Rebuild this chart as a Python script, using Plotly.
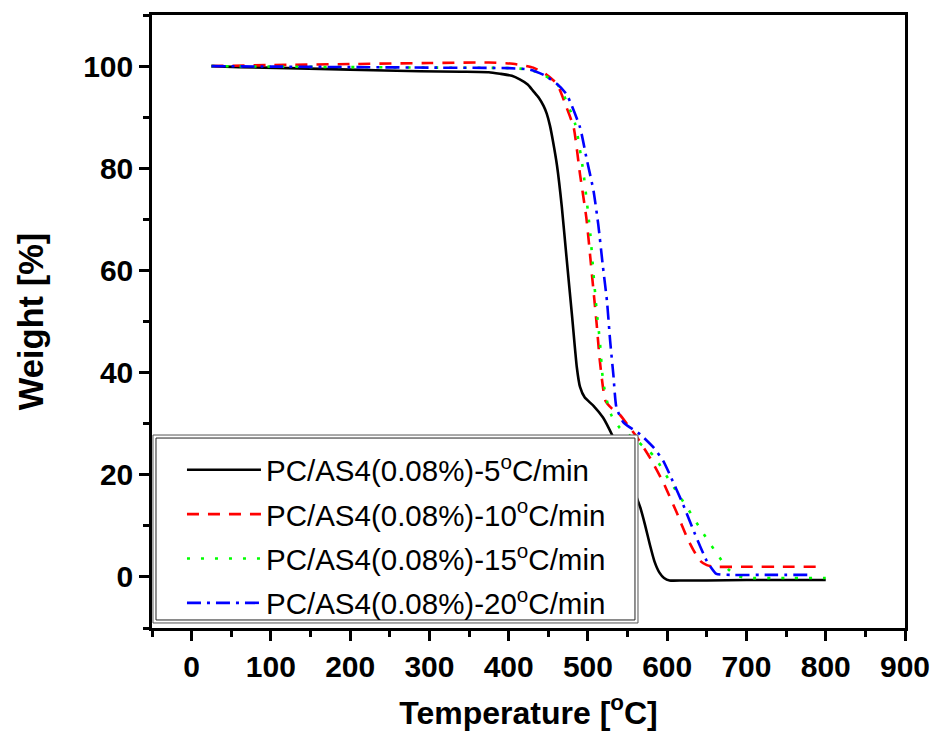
import plotly.graph_objects as go

# ---- data ----
temp_5 = [25, 60, 122, 200, 288, 340, 375, 389, 404, 414, 424, 431, 438, 444, 448, 452, 456, 461, 467, 473, 480, 486,
          490, 496, 507, 519, 532, 540, 550, 560, 566, 572, 578, 584, 590, 596, 603, 620, 650, 700, 750, 800]
wt_5 = [100.0, 99.8, 99.6, 99.3, 99.0, 98.9, 98.8, 98.5, 98.1, 97.4, 96.4, 95.1, 93.8, 92.2, 90.7, 88.4, 85.2, 80.5, 72.5, 62.5, 51.0, 41.0,
        37.2, 35.1, 33.5, 31.2, 27.3, 24.5, 20.5, 16.2, 13.6, 10.2, 6.4, 3.0, 0.9, -0.2, -0.7, -0.7, -0.7, -0.6, -0.6, -0.6]

temp_10 = [25, 100, 200, 300, 375, 402, 420, 431, 446, 461, 473, 482, 490, 498, 503, 507, 511, 515, 522,
           530, 540, 550, 562, 578, 595, 612, 625, 634, 642, 650, 658, 700, 750, 790]
wt_10 = [100.0, 100.2, 100.4, 100.6, 100.7, 100.5, 100.1, 99.7, 98.5, 96.5, 91.9, 88.0, 78.8, 70.3, 62.5, 56.0, 49.5, 42.3, 34.5,
         33.0, 31.8, 29.8, 27.3, 23.4, 18.5, 12.6, 7.7, 5.0, 3.1, 2.3, 2.0, 2.0, 2.0, 2.0]

temp_15 = [25, 100, 200, 300, 400, 427, 445, 461, 469, 484, 494, 503, 507, 511, 515, 519, 526, 530, 540,
           562, 583, 603, 625, 646, 666, 677, 688, 700, 750, 800]
wt_15 = [100.0, 99.9, 99.8, 99.7, 99.6, 99.3, 98.2, 96.5, 94.5, 88.6, 79.5, 67.1, 59.3, 52.1, 46.2, 38.4, 33.1, 31.5, 29.2,
         26.6, 23.7, 18.8, 13.6, 8.4, 3.8, 1.5, 0.2, -0.2, -0.2, -0.2]

temp_20 = [25, 100, 200, 300, 400, 427, 445, 461, 473, 490, 498, 507, 513, 519, 524, 528, 532, 536, 545,
           566, 583, 595, 603, 620, 635, 650, 662, 680, 730, 780]
wt_20 = [100.0, 99.9, 99.8, 99.7, 99.6, 99.3, 98.2, 96.5, 94.5, 88.0, 82.1, 75.6, 69.0, 60.6, 54.0, 46.2, 39.7, 33.1, 30.2,
         27.9, 25.3, 22.7, 20.1, 14.2, 8.4, 3.1, 0.6, 0.4, 0.4, 0.4]

series_names = ["PC/AS4(0.08%)-5<sup>o</sup>C/min", "PC/AS4(0.08%)-10<sup>o</sup>C/min",
                "PC/AS4(0.08%)-15<sup>o</sup>C/min", "PC/AS4(0.08%)-20<sup>o</sup>C/min"]
x_ticks = [0, 100, 200, 300, 400, 500, 600, 700, 800, 900]
y_ticks = [0, 20, 40, 60, 80, 100]

colors = ["#000000", "#FF0000", "#00FF00", "#0000FF"]
dashes = ["solid", "12px,9px", "3px,11px", "14px,6px,3px,6px"]

fig = go.Figure()
for i, (t, w, name, c, d) in enumerate(zip([temp_5, temp_10, temp_15, temp_20], [wt_5, wt_10, wt_15, wt_20],
                                           series_names, colors, dashes)):
    fig.add_trace(go.Scatter(x=t, y=w, mode="lines", name=name, legendgroup=f"g{i}",
                             line=dict(color=c, width=2.6, dash=d, shape="spline", smoothing=0.5)))

tick_font = dict(family="Liberation Sans, Arial, sans-serif", size=30, color="black", weight="bold")
xtitle_font = dict(family="Liberation Sans, Arial, sans-serif", size=32, color="black", weight="bold")
ytitle_font = dict(family="Liberation Sans, Arial, sans-serif", size=34.5, color="black", weight="bold")

# legend frame (double border, opaque), in paper coordinates of the plot area
fig.add_shape(type="rect", xref="paper", yref="paper", x0=0.0013, x1=0.6454, y0=0.0082, y1=0.3148,
              line=dict(color="#555555", width=1), fillcolor="white", layer="above")
fig.add_shape(type="rect", xref="paper", yref="paper", x0=0.0053, x1=0.6414, y0=0.0131, y1=0.3099,
              line=dict(color="#222222", width=1), fillcolor="white", layer="above")

fig.update_layout(
    width=935, height=738,
    margin=dict(l=152, r=30, t=15, b=110, autoexpand=False),
    plot_bgcolor="white", paper_bgcolor="white",
    showlegend=True,
    legend=dict(x=0.0398, y=0.300, xanchor="left", yanchor="top",
                bgcolor="rgba(0,0,0,0)", borderwidth=0, tracegroupgap=3,
                font=dict(family="Liberation Sans, Arial, sans-serif", size=29.5, color="black"),
                itemwidth=74),
    xaxis=dict(range=[-50, 900], tickvals=x_ticks, ticktext=[str(v) for v in x_ticks],
               showline=True, linecolor="black", linewidth=2.5, mirror=True,
               ticks="outside", ticklen=10, tickwidth=2.5, tickcolor="black",
               minor=dict(dtick=50, tick0=0, ticks="outside", ticklen=6, tickwidth=2.5, tickcolor="black"),
               showgrid=False, zeroline=False, tickfont=tick_font,
               title=dict(text="Temperature [<sup>o</sup>C]", font=xtitle_font, standoff=20)),
    yaxis=dict(range=[-10, 110], tickvals=y_ticks, ticktext=[str(v) for v in y_ticks],
               showline=True, linecolor="black", linewidth=2.5, mirror=True,
               ticks="outside", ticklen=10, tickwidth=2.5, tickcolor="black",
               minor=dict(dtick=10, tick0=0, ticks="outside", ticklen=6, tickwidth=2.5, tickcolor="black"),
               showgrid=False, zeroline=False, tickfont=tick_font,
               title=dict(text="Weight [%]", font=ytitle_font, standoff=30)),
    xaxis2=dict(range=[-50, 900], overlaying="x", side="top", anchor="y", dtick=50, tick0=0,
                ticks="outside", ticklen=3, tickwidth=1.5, tickcolor="black",
                showticklabels=False, showgrid=False, zeroline=False, showline=False),
    yaxis2=dict(range=[-10, 110], overlaying="y", side="right", anchor="x", dtick=10, tick0=0,
                ticks="outside", ticklen=3, tickwidth=1.5, tickcolor="black",
                showticklabels=False, showgrid=False, zeroline=False, showline=False),
)

fig.write_html("out.html", config={"displayModeBar": False},
               post_script="document.body.style.margin='0';")
